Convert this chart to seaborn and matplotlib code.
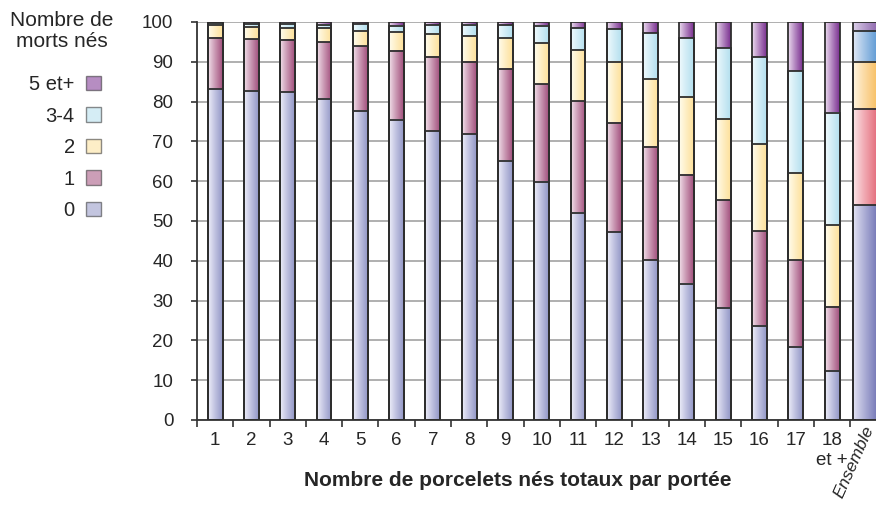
import numpy as np
import pandas as pd
import matplotlib
matplotlib.use("Agg")
import matplotlib.pyplot as plt
import seaborn as sns
from matplotlib.colors import to_rgb
from matplotlib.patches import Patch
from matplotlib.transforms import blended_transform_factory

# categories: litter size (total born), last one is the overall mean
categories = [str(i) for i in range(1, 18)] + ["18\net +", "Ensemble"]
levels = ["0", "1", "2", "3-4", "5 et+"]

# % of litters by number of stillborn piglets
pct_0 = [83.1, 82.7, 82.3, 80.7, 77.7, 75.4, 72.5, 71.8, 65.1, 59.9,
         52.1, 47.2, 40.2, 34.2, 28.2, 23.7, 18.4, 12.4, 53.9]
pct_1 = [12.9, 13.0, 13.3, 14.3, 16.2, 17.4, 18.6, 18.2, 23.2, 24.5,
         28.1, 27.4, 28.5, 27.4, 27.1, 23.8, 21.8, 16.1, 24.2]
pct_2 = [3.2, 3.1, 2.8, 3.4, 3.9, 4.6, 5.9, 6.4, 7.7, 10.2,
         12.8, 15.4, 17.1, 19.6, 20.4, 21.8, 21.8, 20.4, 11.9]
pct_34 = [0.6, 0.8, 1.1, 0.8, 1.7, 1.7, 2.2, 2.8, 3.2, 4.4,
          5.4, 8.2, 11.4, 14.8, 17.8, 21.8, 25.6, 28.2, 7.8]
pct_5 = [0.2, 0.4, 0.5, 0.8, 0.5, 0.9, 0.8, 0.8, 0.8, 1.0,
         1.6, 1.8, 2.8, 4.0, 6.5, 8.9, 12.4, 22.9, 2.2]

# gradient colours (left, right) per level, and for the "Ensemble" bar
grad = {"0": ("#f0f0fb", "#9296c6"), "1": ("#f3e3ec", "#a24f7c"),
        "2": ("#fffdf0", "#fde09a"), "3-4": ("#f2fbfe", "#b3dfee"),
        "5 et+": ("#eee0f2", "#7a3090")}
grad_all = {"0": ("#e6e6f5", "#5559a5"), "1": ("#fde8eb", "#dd4a5c"),
            "2": ("#fff6e4", "#f6b040"), "3-4": ("#e4ebf7", "#3a84cb"),
            "5 et+": ("#ddd2ea", "#7a4c9e")}

df = pd.DataFrame({"cat": categories, "0": pct_0, "1": pct_1, "2": pct_2,
                   "3-4": pct_34, "5 et+": pct_5})
cum = df[levels].cumsum(axis=1)

sns.set_style("white")
plt.rcParams["font.family"] = ["Liberation Sans", "DejaVu Sans"]
plt.rcParams["font.size"] = 13

fig = plt.figure(figsize=(8.76, 5.14), dpi=100)
ax = fig.add_axes([0.2249, 0.1829, 0.7751, 0.7743])


def gradient(c0, c1, n=64):
    a, b = np.array(to_rgb(c0)), np.array(to_rgb(c1))
    t = np.linspace(0, 1, n)[:, None] ** 0.9
    return (a + (b - a) * t)[None, :, :]


# tallest cumulative bar first, shorter ones on top
for k in reversed(range(len(levels))):
    lev = levels[k]
    n0 = len(ax.patches)
    sns.barplot(x=df["cat"], y=cum[lev], color="white", width=0.41,
                edgecolor="#2e2e2e", linewidth=1.3, ax=ax, zorder=3)
    for i, p in enumerate(ax.patches[n0:]):
        if i == len(categories) - 1:
            p.set_x(i - 0.43)
            p.set_width(0.86)
        p.set_facecolor("none")
        bottom = cum[levels[k - 1]].iloc[i] if k > 0 else 0
        cols = grad_all[lev] if i == len(categories) - 1 else grad[lev]
        x0 = p.get_x()
        ax.imshow(gradient(*cols), extent=[x0, x0 + p.get_width(), bottom, p.get_height()],
                  aspect="auto", interpolation="bilinear", zorder=2)

ax.set_xlim(-0.5, 18.21)
ax.set_ylim(0, 100)
ax.set_yticks(range(0, 101, 10))
ax.yaxis.grid(True, color="#a9a9a9", lw=1.3)
ax.set_axisbelow(True)
for s in ["top", "right"]:
    ax.spines[s].set_visible(False)
for s in ["left", "bottom"]:
    ax.spines[s].set_color("#333333")
    ax.spines[s].set_linewidth(1.3)

ax.set_xlabel("")
ax.set_ylabel("")
ax.set_xticks(np.arange(-0.5, 18.5, 1), minor=True)
ax.tick_params(axis="x", which="major", length=0, pad=9, labelsize=13.5)
ax.tick_params(axis="x", which="minor", length=5, width=1.2, color="#333333", direction="out")
ax.tick_params(axis="y", length=4, width=1.2, color="#333333", direction="out", pad=13, labelsize=13.5)
ax.yaxis.set_ticks_position("left")
ax.xaxis.set_ticks_position("bottom")

labels = list(categories[:-1]) + [""]
ax.set_xticks(range(len(categories)))
ax.set_xticklabels(labels)
trans = blended_transform_factory(ax.transData, ax.transAxes)
ax.text(17.6, -0.008, "Ensemble", transform=trans, rotation=66, style="italic",
        ha="center", va="top", fontsize=12.5)

fig.text(0.5907, 0.066, "Nombre de porcelets nés totaux par portée",
         ha="center", va="center", fontweight="bold", fontsize=15)

fig.text(62 / 876, 1 - 31 / 514, "Nombre de\nmorts nés", ha="center", va="center",
         fontsize=15, linespacing=1.15)

handles = [Patch(facecolor=grad[l][1], edgecolor="#2e2e2e", linewidth=1.0,
                 alpha=0.55) for l in reversed(levels)]
fig.legend(handles, list(reversed(levels)), loc="upper right",
           bbox_to_anchor=(111 / 876, 1 - 65 / 514), frameon=False, markerfirst=False,
           fontsize=14.5, handlelength=0.75, handleheight=0.75, handletextpad=0.55,
           labelspacing=0.62, borderpad=0)

fig.savefig("out.png", dpi=100)
